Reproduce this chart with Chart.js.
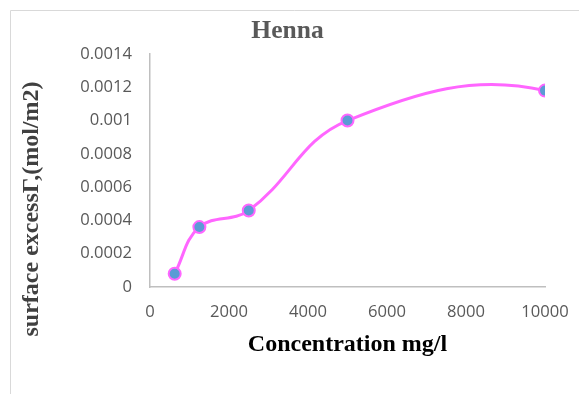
<!DOCTYPE html>
<html>
<head>
<meta charset="utf-8">
<script src="https://cdn.jsdelivr.net/npm/chart.js@4"></script>
<style>
  html, body { margin: 0; padding: 0; background: #ffffff; }
  #wrap { position: relative; width: 579px; height: 394px; }
</style>
</head>
<body>
<div id="wrap"><canvas id="c" width="579" height="394"></canvas></div>
<script>
// ---- data ----
const chartTitle = 'Henna';
const xAxisTitle = 'Concentration mg/l';
const yAxisTitle = 'surface excessΓ,(mol/m2)';
const concentrations = [625, 1250, 2500, 5000, 10000];
const surfaceExcess = [0.00008, 0.00036, 0.00046, 0.001, 0.00118];
const xTickValues = [0, 2000, 4000, 6000, 8000, 10000];
const xTickLabels = ['0', '2000', '4000', '6000', '8000', '10000'];
const yTickValues = [0, 0.0002, 0.0004, 0.0006, 0.0008, 0.001, 0.0012, 0.0014];
const yTickLabels = ['0', '0.0002', '0.0004', '0.0006', '0.0008', '0.001', '0.0012', '0.0014'];

const points = concentrations.map((c, i) => ({ x: c, y: surfaceExcess[i] }));

const tickFont = { family: '"Open Sans", "Liberation Sans", sans-serif', size: 16.6 };
const titleFamily = '"Liberation Serif", "Times New Roman", serif';

function labelFor(values, labels, v) {
  let best = 0, bd = Infinity;
  values.forEach((tv, i) => { const d = Math.abs(tv - v); if (d < bd) { bd = d; best = i; } });
  return labels[best];
}

// frame + rotated y title
const decorations = {
  id: 'decorations',
  beforeDraw(chart) {
    const ctx = chart.ctx;
    ctx.save();
    ctx.strokeStyle = '#d9d9d9';
    ctx.lineWidth = 1;
    ctx.beginPath();
    ctx.moveTo(10.5, chart.height);
    ctx.lineTo(10.5, 10.5);
    ctx.lineTo(chart.width, 10.5);
    ctx.stroke();
    ctx.restore();
  },
  afterDraw(chart) {
    const ctx = chart.ctx;
    ctx.save();
    ctx.translate(32, 209);
    ctx.rotate(-Math.PI / 2);
    ctx.font = 'bold 24px ' + titleFamily;
    ctx.fillStyle = '#404040';
    ctx.textAlign = 'center';
    ctx.textBaseline = 'middle';
    ctx.fillText(yAxisTitle, 0, 0);
    ctx.restore();
  }
};

// Excel-like end of the smoothed line (curve keeps bending past the last point)
const excelSmoothEnd = {
  id: 'excelSmoothEnd',
  beforeDatasetDraw(chart, args) {
    const meta = args.meta;
    const line = meta.dataset;
    if (!line) return;
    line.updateControlPoints(chart.chartArea, meta.iScale.axis);
    const pts = line.points;
    const n = pts.length;
    if (n < 3) return;
    const L = pts[n - 1], P = pts[n - 2];
    const ux = L.x - P.x, uy = L.y - P.y;
    const len = Math.hypot(ux, uy);
    const ex = ux / len, ey = uy / len;
    const vx = P.cp2x - P.x, vy = P.cp2y - P.y;
    const along = vx * ex + vy * ey;
    const px = vx - along * ex, py = vy - along * ey;
    const k = 1.5, a = 0.9;
    L.cp1x = L.x - a * along * ex + k * px;
    L.cp1y = L.y - a * along * ey + k * py;
    line._path = undefined;
  }
};

new Chart(document.getElementById('c'), {
  type: 'line',
  data: {
    datasets: [{
      data: points,
      borderColor: '#ff66ff',
      borderWidth: 3,
      borderCapStyle: 'round',
      borderJoinStyle: 'round',
      tension: 0.4,
      fill: false,
      pointRadius: 6,
      pointHoverRadius: 6,
      pointBackgroundColor: '#5b9bd5',
      pointBorderColor: '#ff66ff',
      pointBorderWidth: 2
    }]
  },
  options: {
    responsive: false,
    animation: false,
    devicePixelRatio: 1,
    events: [],
    layout: { padding: { left: 30, right: 34, top: 0, bottom: 0 } },
    plugins: {
      legend: { display: false },
      tooltip: { enabled: false },
      title: {
        display: true,
        text: chartTitle,
        color: '#595959',
        font: { family: titleFamily, size: 25.5, weight: 'bold' },
        padding: { top: 16, bottom: 7.4 }
      }
    },
    scales: {
      x: {
        type: 'linear',
        min: 0,
        max: 10000,
        afterBuildTicks: s => { s.ticks = xTickValues.map(v => ({ value: v })); },
        afterFit: s => { s.height = 107; s.paddingLeft = 0; s.paddingRight = 0; },
        grid: { display: false, drawTicks: false },
        border: { display: true, color: '#bfbfbf', width: 1.5 },
        ticks: {
          color: '#595959',
          font: tickFont,
          padding: 15,
          maxRotation: 0,
          autoSkip: false,
          callback: v => labelFor(xTickValues, xTickLabels, v)
        },
        title: {
          display: true,
          text: xAxisTitle,
          color: '#000000',
          font: { family: titleFamily, size: 24, weight: 'bold' },
          padding: { top: 0, bottom: 35 }
        }
      },
      y: {
        type: 'linear',
        min: 0,
        max: 0.0014,
        afterBuildTicks: s => { s.ticks = yTickValues.map(v => ({ value: v })); },
        afterFit: s => { s.width = 120; },
        grid: { display: false, drawTicks: false },
        border: { display: true, color: '#bfbfbf', width: 1.5 },
        ticks: {
          color: '#595959',
          font: tickFont,
          padding: 18,
          autoSkip: false,
          callback: v => labelFor(yTickValues, yTickLabels, v)
        }
      }
    }
  },
  plugins: [decorations, excelSmoothEnd]
});
</script>
</body>
</html>
